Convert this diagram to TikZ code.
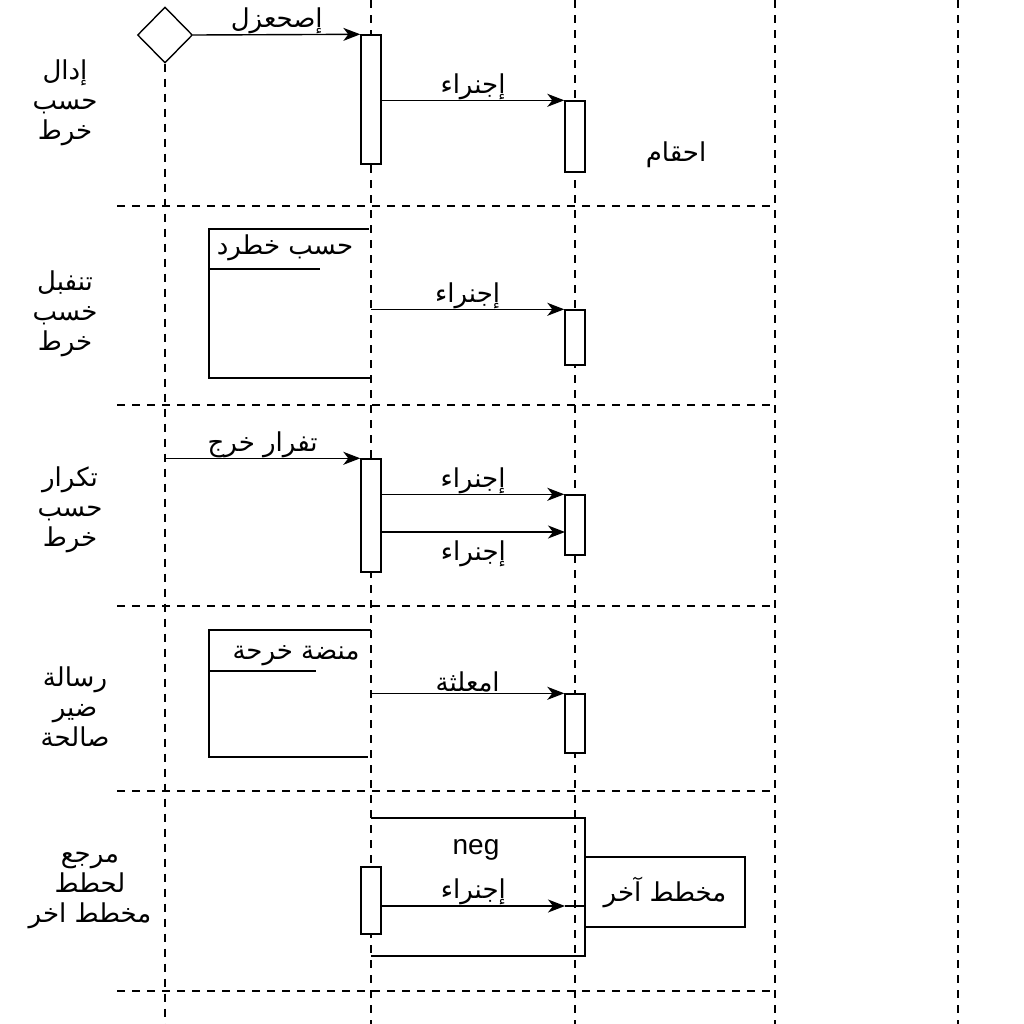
\documentclass[tikz,border=0pt]{standalone}
\usepackage{fontspec}
\setmainfont{Liberation Sans}
\newfontfamily\arabicfont[Script=Arabic]{DejaVu Sans}
\TeXXeTstate=1
\usetikzlibrary{arrows.meta,positioning,shapes.geometric}
\newcommand{\artext}[1]{\beginR #1\endR}
\tikzset{
>={Stealth[length=8.5pt, width=6.5pt, inset=2.5pt]},
  lifeline/.style={draw, line width=0.7pt, dash pattern=on 4pt off 3.5pt},
  separator/.style={draw, line width=0.7pt, dash pattern=on 4pt off 3.5pt},
  actbox/.style={
    rectangle,
    draw, fill=white,
    line width=0.7pt,
    minimum width=10,
    inner sep=0pt},
  start/.style={diamond, draw, fill=white, line width=0.7pt,
    minimum width=27.5, minimum height=28, inner sep=0pt},
  msg/.style={draw, line width=0.7pt, ->},
  frameline/.style={draw, line width=0.7pt},
  arlabel/.style={font=\arabicfont\fontsize{13}{15}\selectfont, inner sep=1pt},
  sidelabel/.style={font=\arabicfont\fontsize{13}{15}\selectfont, align=center, inner sep=0pt},
  refbox/.style={rectangle, draw, fill=white, line width=0.7pt,
    minimum width=80, minimum height=35,
    font=\arabicfont\fontsize{13}{15}\selectfont},
}
\begin{document}
\begin{tikzpicture}[x=0.5pt, y=-0.5pt]
  \useasboundingbox (0,0) rectangle (1024,1024);

  % lifelines
  \node[start] (init) at (165,35) {};
  \coordinate (L1bot) at (165,1024);
  \coordinate (L2top) at (371,0);
  \coordinate (L2bot) at (371,1024);
  \coordinate (L3top) at (575,0);
  \coordinate (L3bot) at (575,1024);
  \coordinate (L4top) at (775,0);
  \coordinate (L4bot) at (775,1024);
  \coordinate (L5top) at (958,0);
  \coordinate (L5bot) at (958,1024);
  \path[lifeline] (init.south) -- (L1bot);
  \path[lifeline] (L2top) -- (L2bot);
  \path[lifeline] (L3top) -- (L3bot);
  \path[lifeline] (L4top) -- (L4bot);
  \path[lifeline] (L5top) -- (L5bot);

  % separators
  \foreach \y in {206,405,606,791,991}
    \path[separator] (117,\y) -- (L4top |- 0,\y);

  % frames
  \path[frameline] (369,229) -- (209,229) -- (209,378) -- (371,378);
  \path[frameline] (209,269) -- (320,269);
  \node[arlabel] (opt2) at (285,248) {\artext{حسب خطرد}};
  \path[frameline] (371,630) -- (209,630) -- (209,757) -- (368,757);
  \path[frameline] (209,671) -- (316,671);
  \node[arlabel] (opt4) at (296,656) {\artext{منضة خرحة}};
  \path[frameline] (371,818) -- (585,818) -- (585,956) -- (371,956);
  \node[font=\fontsize{14}{16}\selectfont] (neg) at (476,850) {neg};

  % activations
  \node[actbox, minimum height=64.5] (a1) at (371,99.5) {};
  \node[actbox, minimum height=35.5] (b1) at (575,136.5) {};
  \node[actbox, minimum height=27.5] (b2) at (575,337.5) {};
  \node[actbox, minimum height=56.5] (a3) at (371,515.5) {};
  \node[actbox, minimum height=30] (b3) at (575,525) {};
  \node[actbox, minimum height=29.5] (b4) at (575,723.5) {};
  \node[actbox, minimum height=33.5] (a5) at (371,900.5) {};
  \node[refbox] (other) at (665,892) {\artext{مخطط آخر}};

  % messages
  \path[msg] (init.east) -- (a1.north west)
    node[arlabel, midway, above=-1pt] {\artext{إصحعزل}};
  \path[msg] (a1.east |- b1.north west) -- (b1.north west)
    node[arlabel, midway, above=-1pt] {\artext{إجنراء}};
  \node[arlabel] (state) at (676,155) {\artext{احقام}};
  \path[msg] (L2top |- b2.north west) -- (b2.north west)
    node[arlabel, midway, above=-1pt] {\artext{إجنراء}};
  \path[msg] (init |- a3.north west) -- (a3.north west)
    node[arlabel, midway, above=-1pt] {\artext{تفرار خرج}};
  \path[msg] (a3.east |- b3.north west) -- (b3.north west)
    node[arlabel, midway, above=-1pt] {\artext{إجنراء}};
  \coordinate (r3) at (565,532);
  \path[msg] (a3.east |- r3) -- (r3)
    node[arlabel, midway, below=3pt] {\artext{إجنراء}};
  \path[msg] (L2top |- b4.north west) -- (b4.north west)
    node[arlabel, midway, above=-1pt] {\artext{امعلثة}};
  \coordinate (tip5) at (565,906);
  \path[msg] (a5.east |- tip5) -- (tip5)
    node[arlabel, midway, above=-1pt] {\artext{إجنراء}};
  \path[frameline] (tip5) -- (other.west |- tip5);

  % row labels
  \node[sidelabel] (row1) at (65,103) {\artext{إدال}\\ \artext{حسب}\\ \artext{خرط}};
  \node[sidelabel] (row2) at (65,314) {\artext{تنفبل}\\ \artext{خسب}\\ \artext{خرط}};
  \node[sidelabel] (row3) at (70,510) {\artext{تكرار}\\ \artext{حسب}\\ \artext{خرط}};
  \node[sidelabel] (row4) at (75,707) {\artext{رسالة}\\ \artext{ضير}\\ \artext{صالحة}};
  \node[sidelabel] (row5) at (90,890) {\artext{مرجع}\\ \artext{لحطط}\\ \artext{مخطط اخر}};
\end{tikzpicture}
\end{document}
